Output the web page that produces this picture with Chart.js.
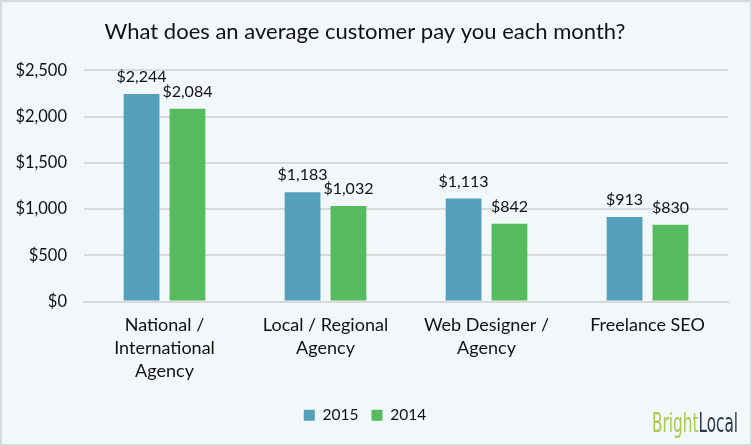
<!DOCTYPE html>
<html>
<head>
<meta charset="utf-8">
<script src="https://cdn.jsdelivr.net/npm/chart.js@4/dist/chart.umd.min.js"></script>
<style>
  html, body { margin: 0; padding: 0; background: #fff; }
  #box {
    position: absolute; left: 0; top: 0;
    width: 752px; height: 446px; box-sizing: border-box;
    border: 2px solid #d9d9d9; background: #f2f7fa;
  }
  #box canvas { display: block; }
</style>
</head>
<body>
<div id="box"><canvas id="chart" width="748" height="442"></canvas></div>
<script>
// data
const categories = [
  ['National /', 'International', 'Agency'],
  ['Local / Regional', 'Agency'],
  ['Web Designer /', 'Agency'],
  'Freelance SEO',
];
const years = ['2015', '2014'];
const values2015 = [2244, 1183, 1113, 913];
const values2014 = [2084, 1032, 842, 830];
const yTicks = [0, 500, 1000, 1500, 2000, 2500];

const blue = '#54a0bb';
const green = '#56bb5e';
const font = "Lato, 'Open Sans', sans-serif";

function money(v) {
  return '$' + v.toLocaleString('en-US');
}

// 値ラベルとロゴ
const labelPlugin = {
  id: 'labels',
  afterDatasetsDraw(chart) {
    const ctx = chart.ctx;
    ctx.save();
    ctx.fillStyle = '#111';
    ctx.font = '16px ' + font;
    ctx.textAlign = 'center';
    ctx.textBaseline = 'bottom';
    chart.data.datasets.forEach((ds, i) => {
      chart.getDatasetMeta(i).data.forEach((bar, j) => {
        ctx.fillText(money(ds.data[j]), bar.x, bar.y - 9);
      });
    });

    // BrightLocal
    ctx.font = '26px ' + "'Liberation Sans Narrow', 'DejaVu Sans Condensed', sans-serif";
    ctx.textAlign = 'left';
    ctx.textBaseline = 'alphabetic';
    const w1 = ctx.measureText('Bright').width;
    const w2 = ctx.measureText('Local').width;
    const sx = 86 / (w1 + w2);
    ctx.translate(650, 430);
    ctx.scale(sx, 1);
    ctx.fillStyle = '#a8c94f';
    ctx.fillText('Bright', 0, 0);
    ctx.fillStyle = '#2b3a4a';
    ctx.fillText('Local', w1, 0);
    ctx.restore();
  },
};

new Chart(document.getElementById('chart'), {
  type: 'bar',
  data: {
    labels: categories,
    datasets: [
      { label: years[0], data: values2015, backgroundColor: blue },
      { label: years[1], data: values2014, backgroundColor: green },
    ],
  },
  options: {
    responsive: false,
    animation: false,
    layout: { padding: { left: 0, right: 22, top: 0, bottom: 11 } },
    datasets: {
      bar: { barPercentage: 0.78, categoryPercentage: 0.57 },
    },
    plugins: {
      title: {
        display: true,
        text: 'What does an average customer pay you each month?',
        color: '#111',
        font: { family: font, size: 22, weight: 'normal' },
        padding: { top: 17, bottom: 25 },
      },
      legend: {
        position: 'bottom',
        labels: {
          color: '#111',
          font: { family: font, size: 15.5 },
          boxWidth: 11,
          boxHeight: 11,
          padding: 13,
        },
      },
      tooltip: { enabled: false },
    },
    scales: {
      x: {
        afterFit(scale) { scale.height = 93; },
        grid: { display: false, drawTicks: false },
        border: { color: '#d9d9d9', width: 2 },
        ticks: {
          color: '#111',
          font: { family: font, size: 18, lineHeight: 1.28 },
          padding: 12,
          maxRotation: 0,
          autoSkip: false,
        },
      },
      y: {
        min: 0,
        max: 2500,
        afterFit(scale) { scale.width = 82; },
        afterBuildTicks(scale) { scale.ticks = yTicks.map(v => ({ value: v })); },
        grid: { color: '#d9d9d9', lineWidth: 2, drawTicks: false },
        border: { display: false },
        ticks: {
          color: '#111',
          font: { family: font, size: 16.5 },
          padding: 17,
          callback: v => money(v),
        },
      },
    },
  },
  plugins: [labelPlugin],
});
</script>
</body>
</html>
